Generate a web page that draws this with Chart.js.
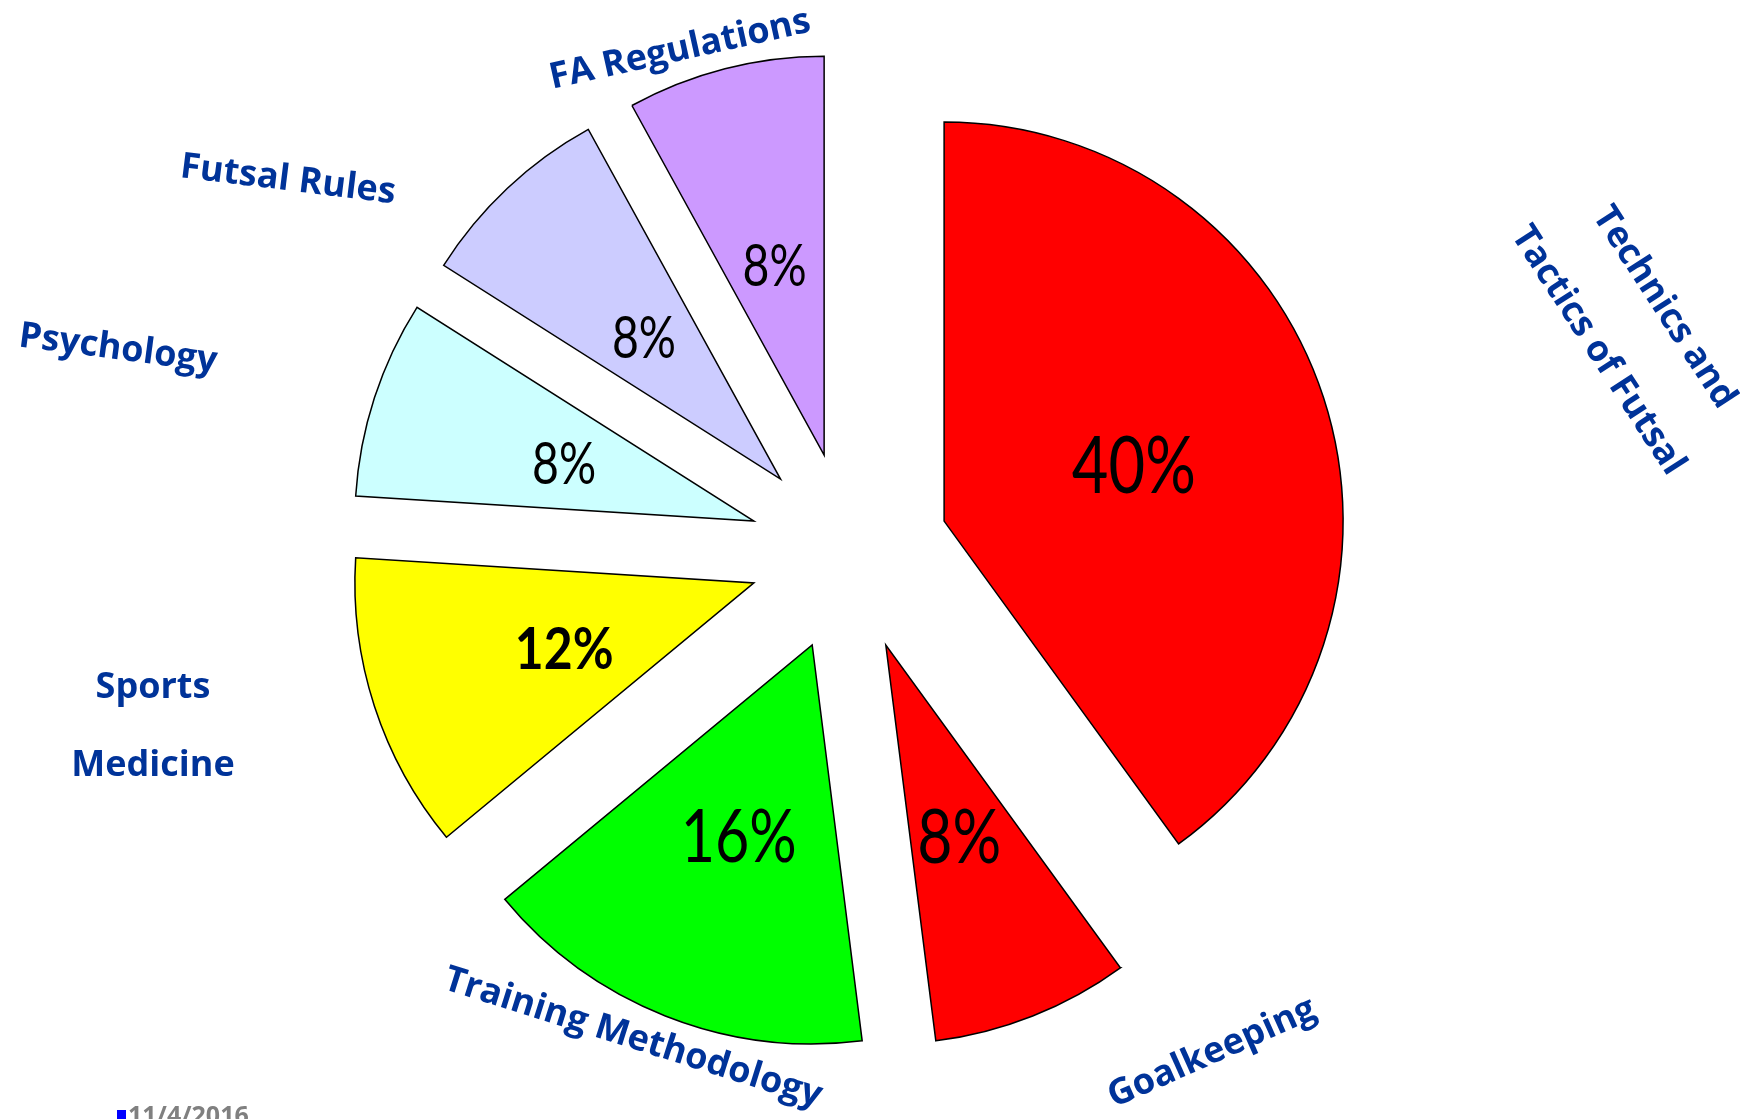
<!DOCTYPE html>
<html>
<head>
<meta charset="utf-8">
<script src="https://cdn.jsdelivr.net/npm/chart.js@4.4.1/dist/chart.umd.min.js"></script>
<style>
    html, body { margin: 0; padding: 0; background: #ffffff; }
    #wrap { position: relative; width: 1740px; height: 1119px; }
</style>
</head>
<body>
<div id="wrap"><canvas id="topicsChart"></canvas></div>
<script>
// --- DATA ---
const topics = ['Technics and Tactics of Futsal', 'Goalkeeping', 'Training Methodology', 'Sports Medicine', 'Psychology', 'Futsal Rules', 'FA Regulations'];
const shares = [40, 8, 16, 12, 8, 8, 8];
const sliceColors = ['#FF0000', '#FF0000', '#00FF00', '#FFFF00', '#CCFFFF', '#CCCCFF', '#CC99FF'];
const footerDate = '11/4/2016';

// --- LAYOUT ---
const RADIUS = 399;   // pie radius in px
const EXPLODE = 100;  // how far every slice is pulled out
const LABEL_BLUE = '#003399';

// percent label font per slice (size, weight, horizontal squeeze)
const pctSizes = [79, 76, 74, 58, 58, 58, 58];
const pctWeights = [400, 400, 400, 700, 400, 400, 400];
const pctSqueeze = [0.8, 0.8, 0.8, 0.86, 0.8, 0.8, 0.8];

// where the topic names sit (slide-style, placed by hand)
const topicLabels = [
    { lines: ['Technics and', 'Tactics of Futsal'], x: 1631, y: 329, rot: 57, lh: 79 },
    { lines: ['Goalkeeping'], x: 1212, y: 1053, rot: -24, lh: 0 },
    { lines: ['Training Methodology'], x: 633, y: 1038, rot: 17.5, lh: 0 },
    { lines: ['Sports', 'Medicine'], x: 153, y: 727, rot: 0, lh: 78 },
    { lines: ['Psychology'], x: 118, y: 349, rot: 7.5, lh: 0 },
    { lines: ['Futsal Rules'], x: 288, y: 180, rot: 7, lh: 0 },
    { lines: ['FA Regulations'], x: 680, y: 50, rot: -12.5, lh: 0 }
];

// pull each slice out along its own bisector (Chart.js' offset option also
// shrinks the arc angles a bit, which tilts the straight edges)
const explode = {
    id: 'explode',
    beforeDatasetsDraw(chart) {
        const area = chart.chartArea;
        const cx = (area.left + area.right) / 2;
        const cy = (area.top + area.bottom) / 2;
        chart.getDatasetMeta(0).data.forEach(arc => {
            const mid = (arc.startAngle + arc.endAngle) / 2;
            arc.x = cx + Math.cos(mid) * EXPLODE;
            arc.y = cy + Math.sin(mid) * EXPLODE;
        });
    }
};

// percentages inside slices, topic names and the footer
const sliceText = {
    id: 'sliceText',
    afterDatasetsDraw(chart) {
        const ctx = chart.ctx;
        const meta = chart.getDatasetMeta(0);
        const total = shares.reduce((a, b) => a + b, 0);

        ctx.save();
        ctx.fillStyle = '#000000';
        ctx.textAlign = 'center';
        ctx.textBaseline = 'middle';
        meta.data.forEach((arc, i) => {
            const mid = (arc.startAngle + arc.endAngle) / 2;
            const d = RADIUS * 0.5;
            const x = arc.x + Math.cos(mid) * d;
            const y = arc.y + Math.sin(mid) * d + pctSizes[i] * 0.1;
            ctx.save();
            ctx.translate(x, y);
            ctx.scale(pctSqueeze[i], 1);
            ctx.font = `${pctWeights[i]} ${pctSizes[i]}px Lato`;
            ctx.fillText(Math.round(shares[i] / total * 100) + '%', 0, 0);
            ctx.restore();
        });

        ctx.fillStyle = LABEL_BLUE;
        ctx.font = '700 36px "Open Sans"';
        topicLabels.forEach(lbl => {
            ctx.save();
            ctx.translate(lbl.x, lbl.y);
            ctx.rotate(lbl.rot * Math.PI / 180);
            const n = lbl.lines.length;
            lbl.lines.forEach((line, k) => {
                ctx.fillText(line, 0, (k - (n - 1) / 2) * lbl.lh);
            });
            ctx.restore();
        });

        // footer date
        ctx.fillStyle = '#0000FF';
        ctx.fillRect(117, 1110, 9, 9);
        ctx.fillStyle = '#808080';
        ctx.textAlign = 'left';
        ctx.textBaseline = 'alphabetic';
        ctx.font = '700 25px "Open Sans"';
        ctx.fillText(footerDate, 128, 1124);
        ctx.restore();
    }
};

const ctxPie = document.getElementById('topicsChart').getContext('2d');
new Chart(ctxPie, {
    type: 'pie',
    data: {
        labels: topics,
        datasets: [{
            data: shares,
            backgroundColor: sliceColors,
            borderColor: '#000000',
            borderWidth: 1.5,
            borderJoinStyle: 'miter',
            offset: 0,
            hoverOffset: 0
        }]
    },
    options: {
        responsive: true,
        maintainAspectRatio: false,
        animation: false,
        events: [],
        radius: RADIUS,
        rotation: 0,
        layout: { padding: { left: 0, right: 42, top: 0, bottom: 15 } },
        plugins: {
            legend: { display: false },
            tooltip: { enabled: false }
        }
    },
    plugins: [explode, sliceText]
});
</script>
</body>
</html>
